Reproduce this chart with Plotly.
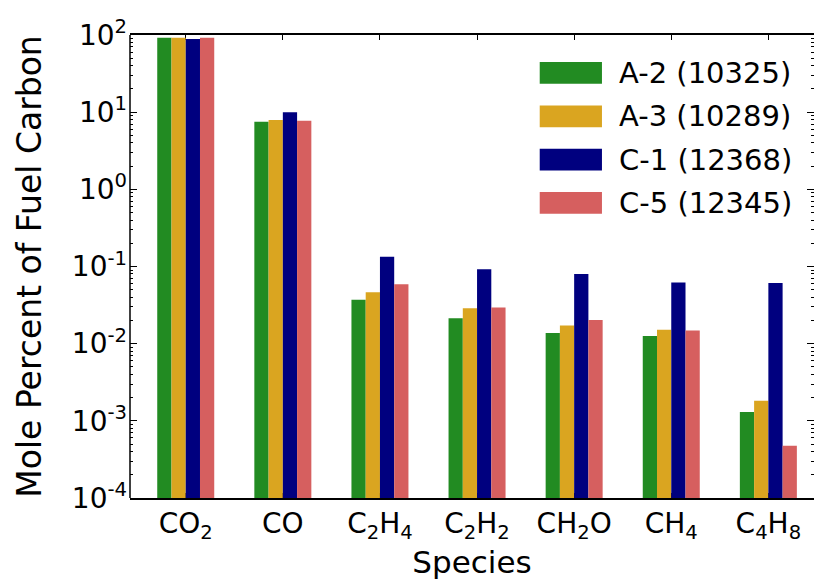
import plotly.graph_objects as go

species = ["CO<sub>2</sub>", "CO", "C<sub>2</sub>H<sub>4</sub>", "C<sub>2</sub>H<sub>2</sub>",
           "CH<sub>2</sub>O", "CH<sub>4</sub>", "C<sub>4</sub>H<sub>8</sub>"]

series_names = ["A-2 (10325)", "A-3 (10289)", "C-1 (12368)", "C-5 (12345)"]
series_colors = ["#228B22", "#DAA520", "#00007F", "#D65F5F"]

a2 = [92.0, 7.5, 0.037, 0.0214, 0.0137, 0.0126, 0.0013]
a3 = [92.0, 7.9, 0.0465, 0.0288, 0.0172, 0.0151, 0.00182]
c1 = [89.0, 10.0, 0.134, 0.092, 0.080, 0.062, 0.061]
c5 = [92.0, 7.76, 0.059, 0.0294, 0.0203, 0.0148, 0.000474]
series_values = [a2, a3, c1, c5]

ytick_vals = [1e-4, 1e-3, 1e-2, 1e-1, 1e0, 1e1, 1e2]
ytick_text = ["10<sup>-4</sup>", "10<sup>-3</sup>", "10<sup>-2</sup>", "10<sup>-1</sup>",
              "10<sup>0</sup>", "10<sup>1</sup>", "10<sup>2</sup>"]
minor_vals = [k * 10.0 ** n for n in range(-4, 2) for k in range(2, 10)]

FONT = "DejaVu Sans"

fig = go.Figure()
for name, color, vals in zip(series_names, series_colors, series_values):
    fig.add_trace(go.Bar(x=species, y=vals, name=name, marker=dict(color=color, line=dict(width=0)),
                         showlegend=False))

# legend drawn as wide patches + text
shapes = []
annotations = []
row_y0 = 0.918
row_step = 0.0935
for i, (name, color) in enumerate(zip(series_names, series_colors)):
    yc = row_y0 - i * row_step
    shapes.append(dict(type="rect", xref="paper", yref="paper", x0=0.599, x1=0.690,
                       y0=yc - 0.0235, y1=yc + 0.0235, fillcolor=color, line=dict(width=0)))
    annotations.append(dict(xref="paper", yref="paper", x=0.712, y=yc, text=name, showarrow=False,
                            xanchor="left", yanchor="middle", font=dict(family=FONT, size=29, color="black")))
# left spine
shapes.append(dict(type="line", xref="paper", yref="paper", x0=0, x1=0, y0=0, y1=1,
                   line=dict(color="black", width=1.5)))

fig.update_layout(
    width=814, height=583,
    margin=dict(l=130, r=0, t=35, b=85),
    paper_bgcolor="white", plot_bgcolor="white",
    barmode="group", bargap=0.413, bargroupgap=0,
    font=dict(family=FONT, color="black"),
    shapes=shapes, annotations=annotations,
)
fig.update_xaxes(
    range=[-0.574, 6.47],
    showline=True, linecolor="black", linewidth=1.5, mirror="ticks",
    ticks="inside", ticklen=5, tickcolor="black",
    tickfont=dict(family=FONT, size=28),
    title=dict(text="Species", font=dict(family=FONT, size=31), standoff=6),
    showgrid=False, layer="below traces",
)
fig.update_yaxes(
    type="log", range=[-4, 2],
    tickmode="array", tickvals=ytick_vals, ticktext=ytick_text,
    showline=False, mirror="ticks",
    ticks="inside", ticklen=7, tickcolor="black",
    minor=dict(tickmode="array", tickvals=minor_vals, ticks="inside", ticklen=3,
               tickcolor="black", showgrid=False),
    tickfont=dict(family=FONT, size=28),
    ticklabelstandoff=2,
    title=dict(text="Mole Percent of Fuel Carbon", font=dict(family=FONT, size=33), standoff=20),
    showgrid=False, zeroline=False,
)

fig.write_html("out.html")
